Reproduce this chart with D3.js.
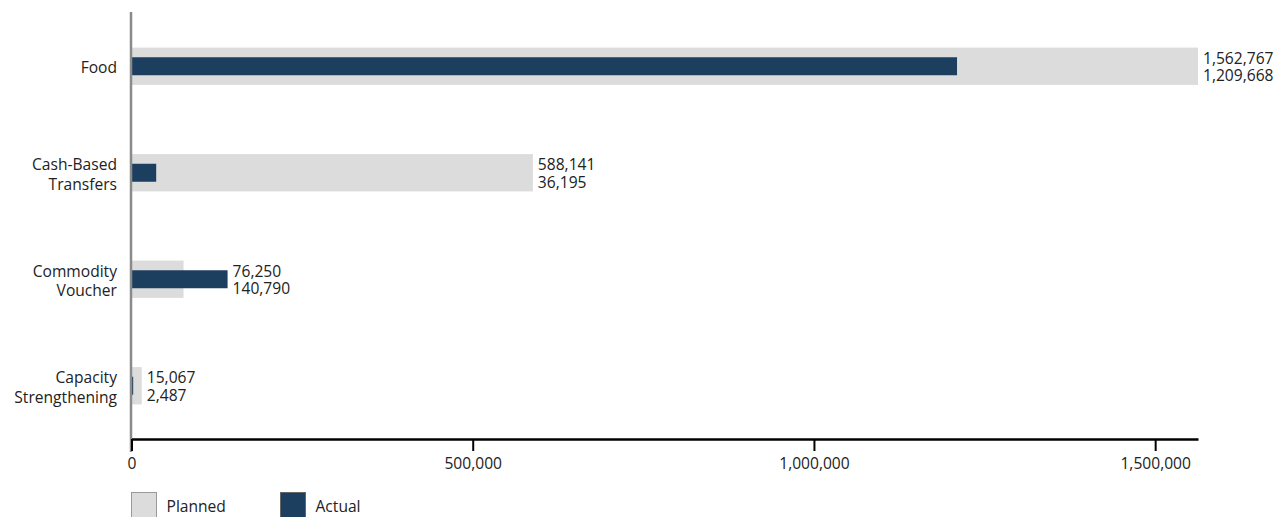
<!DOCTYPE html>
<html>
<head>
<meta charset="utf-8">
<script src="https://cdn.jsdelivr.net/npm/d3@7"></script>
<style>
  html, body { margin: 0; padding: 0; background: #fff; }
  svg text { font-family: "Open Sans", "Noto Sans", sans-serif; fill: #222; }
</style>
</head>
<body>
<svg id="chart" width="1279" height="517"></svg>
<script>
// Transfer modalities: planned vs actual
const categories = [["Food"], ["Cash-Based", "Transfers"], ["Commodity", "Voucher"], ["Capacity", "Strengthening"]];
const planned = [1562767, 588141, 76250, 15067];
const actual = [1209668, 36195, 140790, 2487];
const tickValues = [0, 500000, 1000000, 1500000];
const seriesNames = ["Planned", "Actual"];

const colors = { planned: "#dcdcdc", actual: "#1d3f5f" };
const fmt = d3.format(",");
const fontSize = 15.6;

const svg = d3.select("#chart");
const plotLeft = 131.5, plotRight = 1198, plotTop = 13, plotBottom = 439;

const x = d3.scaleLinear().domain([0, d3.max(planned)]).range([plotLeft, plotRight]);
const y = d3.scaleBand()
  .domain(d3.range(categories.length))
  .range([plotTop, plotBottom])
  .paddingInner(0.65)
  .paddingOuter(0.325);

const center = i => y(i) + y.bandwidth() / 2;
const actualH = 18;

// planned bars (wide, light)
svg.append("g").selectAll("rect")
  .data(planned)
  .join("rect")
  .attr("x", x(0))
  .attr("y", (d, i) => y(i))
  .attr("width", d => x(d) - x(0))
  .attr("height", y.bandwidth())
  .attr("fill", colors.planned);

// actual bars (narrow, dark)
svg.append("g").selectAll("rect")
  .data(actual)
  .join("rect")
  .attr("x", x(0))
  .attr("y", (d, i) => center(i) - actualH / 2)
  .attr("width", d => x(d) - x(0))
  .attr("height", actualH)
  .attr("fill", colors.actual);

// value labels: planned on the upper line, actual on the lower line
const labelX = i => x(Math.max(planned[i], actual[i])) + 5;
const idx = d3.range(categories.length);
const valueLabels = svg.append("g").attr("font-size", fontSize);
valueLabels.selectAll("text.planned")
  .data(idx)
  .join("text")
  .attr("class", "planned")
  .attr("x", labelX)
  .attr("y", i => center(i) - 8.75)
  .attr("dominant-baseline", "central")
  .text(i => fmt(planned[i]));
valueLabels.selectAll("text.actual")
  .data(idx)
  .join("text")
  .attr("class", "actual")
  .attr("x", labelX)
  .attr("y", i => center(i) + 8.75)
  .attr("dominant-baseline", "central")
  .text(i => fmt(actual[i]));

// category labels, one text per line
const catLines = categories.flatMap((lines, i) =>
  lines.map((l, k) => ({ text: l, i, off: (k - (lines.length - 1) / 2) * 19.5 })));
svg.append("g").selectAll("text")
  .data(catLines)
  .join("text")
  .attr("text-anchor", "end")
  .attr("font-size", fontSize)
  .attr("x", 117)
  .attr("y", d => center(d.i) + d.off + 1)
  .attr("dominant-baseline", "central")
  .text(d => d.text);

// y axis line
svg.append("line")
  .attr("x1", 131).attr("x2", 131)
  .attr("y1", 12).attr("y2", 452)
  .attr("stroke", "#8a8a8a").attr("stroke-width", 2.5);

// x axis
const xAxis = svg.append("g")
  .attr("transform", `translate(0,${plotBottom})`)
  .call(d3.axisBottom(x).tickValues(tickValues).tickFormat(fmt).tickSize(12).tickSizeOuter(0));
xAxis.select(".domain").attr("stroke", "#000").attr("stroke-width", 2.5);
xAxis.selectAll(".tick line").attr("stroke", "#000").attr("stroke-width", 2);
xAxis.selectAll(".tick text")
  .attr("font-size", fontSize)
  .attr("font-family", "'Open Sans', 'Noto Sans', sans-serif")
  .attr("fill", "#222")
  .attr("y", 24)
  .attr("dy", "0")
  .attr("dominant-baseline", "central");

// legend
const legend = svg.append("g").selectAll("g")
  .data(seriesNames)
  .join("g")
  .attr("transform", (d, i) => `translate(${131.5 + i * 149},492.5)`);
legend.append("rect")
  .attr("width", 25)
  .attr("height", 30)
  .attr("fill", (d, i) => i === 0 ? colors.planned : colors.actual)
  .attr("stroke", (d, i) => i === 0 ? "#9a9a9a" : "#666")
  .attr("stroke-width", 1);
legend.append("text")
  .attr("x", 35)
  .attr("y", 13.5)
  .attr("dominant-baseline", "central")
  .attr("font-size", fontSize)
  .text(d => d);
</script>
</body>
</html>
